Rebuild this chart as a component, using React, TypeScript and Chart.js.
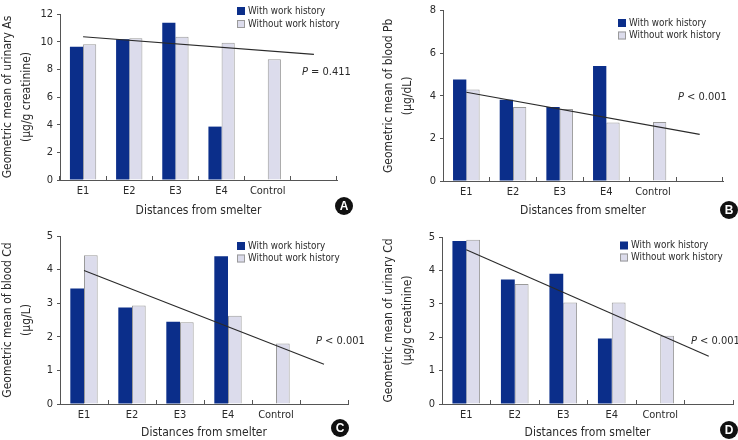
import React, { useEffect, useRef } from 'react';
import { Chart, registerables } from 'chart.js';
Chart.register(...registerables);

const categories = ['E1', 'E2', 'E3', 'E4', 'Control', ''];
const seriesLabels = ['With work history', 'Without work history'];

const asWith = [9.64, 10.17, 11.37, 3.86, null, null];
const asWithout = [9.81, 10.24, 10.36, 9.93, 8.72, null];
const asTrend = [10.35, null, null, null, null, 9.08];

const pbWith = [4.76, 3.82, 3.47, 5.4, null, null];
const pbWithout = [4.3, 3.47, 3.38, 2.75, 2.77, null];
const pbTrend = [4.17, null, null, null, null, 2.19];

const bcdWith = [3.44, 2.87, 2.45, 4.4, null, null];
const bcdWithout = [4.43, 2.93, 2.43, 2.63, 1.8, null];
const bcdTrend = [3.97, null, null, null, null, 1.18];

const ucdWith = [4.88, 3.73, 3.9, 1.96, null, null];
const ucdWithout = [4.92, 3.59, 3.04, 3.04, 2.04, null];
const ucdTrend = [4.62, null, null, null, null, 1.43];

const FONT = "'DejaVu Sans Condensed', 'Liberation Sans', sans-serif";
const DARK = '#0b2e8a';
const LIGHT = '#dcdcec';
const LIGHT_BORDER = '#9a9a9a';
const TEXT = '#2a2a2a';

const decorPlugin = {
  id: 'decor',
  afterDraw(chart: any, _args: any, opts: any) {
    const ctx = chart.ctx;
    ctx.save();
    const ds = chart.data.datasets;
    const lg = opts.legend;
    for (let i = 0; i < 2; i++) {
      const y = lg.y + i * lg.gap;
      ctx.fillStyle = ds[i].backgroundColor;
      ctx.fillRect(lg.x, y, 8, 8);
      if (i === 1) {
        ctx.strokeStyle = LIGHT_BORDER;
        ctx.lineWidth = 1;
        ctx.strokeRect(lg.x + 0.5, y + 0.5, 7, 7);
      }
      ctx.fillStyle = TEXT;
      ctx.font = `9.8px ${FONT}`;
      ctx.textBaseline = 'middle';
      ctx.textAlign = 'left';
      ctx.fillText(ds[i].label, lg.x + 11, y + 4);
    }
    const p = opts.p;
    ctx.font = `italic 11px ${FONT}`;
    ctx.fillStyle = TEXT;
    ctx.textBaseline = 'middle';
    ctx.fillText('P', p.x, p.y);
    const w = ctx.measureText('P').width;
    ctx.font = `11px ${FONT}`;
    ctx.fillText(p.text, p.x + w, p.y);
    const L = opts.letter;
    ctx.beginPath();
    ctx.arc(L.x, L.y, 9, 0, Math.PI * 2);
    ctx.fillStyle = '#111';
    ctx.fill();
    ctx.fillStyle = '#fff';
    ctx.font = `bold 12px 'Liberation Sans', Arial, sans-serif`;
    ctx.textAlign = 'center';
    ctx.textBaseline = 'middle';
    ctx.fillText(L.text, L.x, L.y + 0.5);
    ctx.restore();
  },
};

type PanelProps = {
  left: number; top: number; width: number; height: number;
  withData: (number | null)[]; withoutData: (number | null)[]; trend: (number | null)[];
  yMax: number; yStep: number; yTitle: string[];
  pad: { left: number; top: number; right: number; bottom: number };
  yWidth: number; xHeight: number; xTitlePad: number;
  legend: { x: number; y: number; gap: number };
  p: { x: number; y: number; text: string };
  letter: { x: number; y: number; text: string };
};

function Panel(props: PanelProps) {
  const ref = useRef<HTMLCanvasElement>(null);
  useEffect(() => {
    const chart = new Chart(ref.current as HTMLCanvasElement, {
      type: 'bar',
      data: {
        labels: categories,
        datasets: [
          { label: seriesLabels[0], data: props.withData, backgroundColor: DARK, borderWidth: 0, order: 1 } as any,
          { label: seriesLabels[1], data: props.withoutData, backgroundColor: LIGHT, borderColor: LIGHT_BORDER, borderWidth: 1, borderSkipped: 'bottom', order: 1 } as any,
          { type: 'line', label: 'Trend', data: props.trend, borderColor: '#2a2a2a', borderWidth: 1.1, pointRadius: 0, spanGaps: true, fill: false, order: 0 } as any,
        ],
      },
      options: {
        responsive: false,
        animation: false,
        devicePixelRatio: 1,
        categoryPercentage: 0.57,
        barPercentage: 1,
        layout: { padding: props.pad },
        plugins: {
          legend: { display: false },
          tooltip: { enabled: false },
          decor: { legend: props.legend, p: props.p, letter: props.letter },
        } as any,
        scales: {
          x: {
            offset: true,
            grid: { offset: true, drawOnChartArea: false, tickLength: -4, color: '#555', lineWidth: 1 },
            border: { display: true, color: '#555', width: 1 },
            ticks: { color: TEXT, font: { family: FONT, size: 11 }, padding: 9, maxRotation: 0, autoSkip: false },
            title: { display: true, text: 'Distances from smelter', color: TEXT, font: { family: FONT, size: 12, lineHeight: 1 }, padding: { top: 0, bottom: props.xTitlePad } },
            afterFit: (s: any) => { s.height = props.xHeight; },
          },
          y: {
            min: 0,
            max: props.yMax,
            grid: { drawOnChartArea: false, tickLength: 3, color: '#555' },
            border: { display: true, color: '#555', width: 1 },
            ticks: { stepSize: props.yStep, color: TEXT, font: { family: FONT, size: 11 }, padding: 4 },
            title: { display: true, text: props.yTitle, color: TEXT, font: { family: FONT, size: 12, lineHeight: '19px' as any }, padding: { top: 0, bottom: 0 } },
            afterFit: (s: any) => { s.width = props.yWidth; },
          },
        },
      },
      plugins: [decorPlugin],
    });
    return () => chart.destroy();
  }, []);
  return (
    <canvas
      ref={ref}
      width={props.width}
      height={props.height}
      style={{ position: 'absolute', left: props.left, top: props.top, width: props.width, height: props.height }}
    />
  );
}

export default function App() {
  return (
    <div style={{ position: 'absolute', left: 0, top: 0, width: 738, height: 440, background: '#fff', overflow: 'hidden' }}>
      <Panel
        left={-2} top={0} width={371} height={220}
        withData={asWith} withoutData={asWithout} trend={asTrend}
        yMax={12} yStep={2} yTitle={['Geometric mean of urinary As', '(μg/g creatinine)']}
        pad={{ left: 0, top: 14, right: 32, bottom: 0 }} yWidth={62} xHeight={40} xTitlePad={3.5}
        legend={{ x: 239, y: 7, gap: 13 }}
        p={{ x: 304, y: 72, text: ' = 0.411' }}
        letter={{ x: 346, y: 206, text: 'A' }}
      />
      <Panel
        left={369} top={0} width={369} height={220}
        withData={pbWith} withoutData={pbWithout} trend={pbTrend}
        yMax={8} yStep={2} yTitle={['Geometric mean of blood Pb', '(μg/dL)']}
        pad={{ left: 10, top: 7, right: 15, bottom: 0 }} yWidth={64} xHeight={39} xTitlePad={3.5}
        legend={{ x: 249, y: 19, gap: 12.5 }}
        p={{ x: 309, y: 97, text: ' < 0.001' }}
        letter={{ x: 360, y: 210, text: 'B' }}
      />
      <Panel
        left={-2} top={220} width={371} height={220}
        withData={bcdWith} withoutData={bcdWithout} trend={bcdTrend}
        yMax={5} yStep={1} yTitle={['Geometric mean of blood Cd', '(μg/L)']}
        pad={{ left: 0, top: 16, right: 21, bottom: 0 }} yWidth={62} xHeight={36} xTitlePad={1}
        legend={{ x: 239, y: 22, gap: 12.5 }}
        p={{ x: 318, y: 121, text: ' < 0.001' }}
        letter={{ x: 342, y: 208, text: 'C' }}
      />
      <Panel
        left={369} top={220} width={369} height={220}
        withData={ucdWith} withoutData={ucdWithout} trend={ucdTrend}
        yMax={5} yStep={1} yTitle={['Geometric mean of urinary Cd', '(μg/g creatinine)']}
        pad={{ left: 10, top: 17, right: 5, bottom: 0 }} yWidth={63} xHeight={36} xTitlePad={1}
        legend={{ x: 251, y: 21.5, gap: 12 }}
        p={{ x: 322, y: 121, text: ' < 0.001' }}
        letter={{ x: 360, y: 210, text: 'D' }}
      />
    </div>
  );
}
